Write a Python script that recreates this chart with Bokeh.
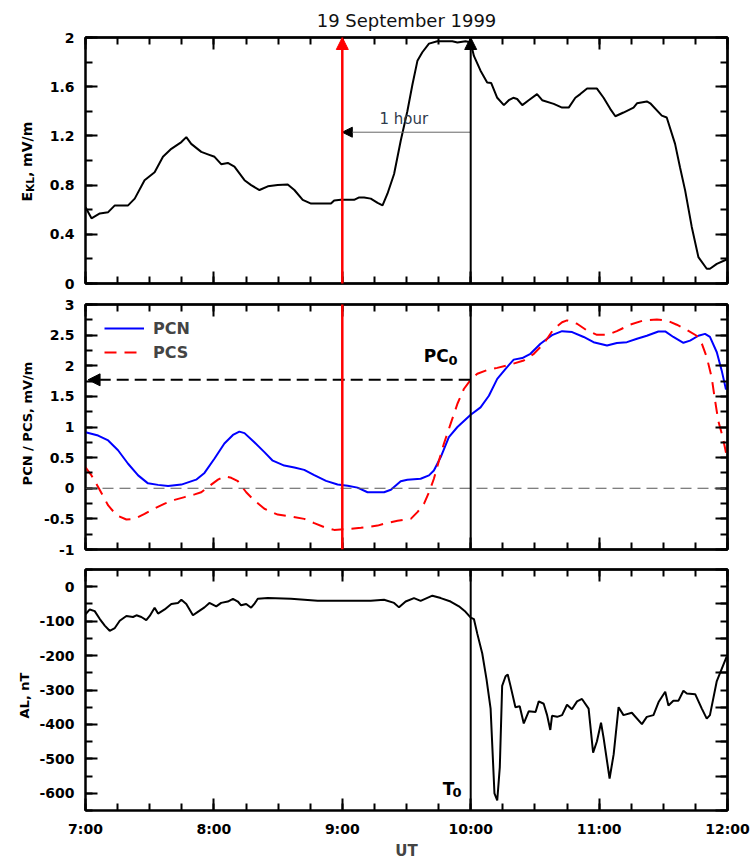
import math

import numpy as np
from bokeh.embed import file_html
from bokeh.layouts import column, row
from bokeh.models import (Arrow, CustomJSTickFormatter, FixedTicker, Label, Legend,
                          LegendItem, LinearAxis, NormalHead, NumeralTickFormatter, Range1d,
                          SingleIntervalTicker, Span)
from bokeh.plotting import figure
from bokeh.resources import INLINE

FONT = "DejaVu Sans"

# ---- data: UT given as minutes after 07:00 ----
ekl_min = [0, 2.8, 6.7, 10.6, 13.7, 19.9, 23.0, 27.6, 32.3, 36.2, 40.1, 44.8, 47.1, 49.4,
           54.1, 57.2, 60.3, 63.4, 66.5, 69.6, 74.3, 77.4, 81.3, 85.2, 89.8, 94.5, 97.6,
           101.5, 105.4, 114.7, 116.2, 119.3, 125.5, 127.9, 130.2, 133.3, 136.5, 138.8,
           141.1, 144.2, 147.3, 150.4, 152.8, 155.1, 157.4, 160.5, 164.4, 171.4, 173.8,
           177.6, 180.0, 181.5, 184.6, 187.7, 189.6, 192.4, 195.5, 197.8, 199.9, 201.7,
           204.1, 207.1, 211.0, 213.4, 218.8, 222.7, 225.8, 228.9, 231.2, 234.4, 239.0,
           242.1, 245.2, 247.6, 251.4, 256.1, 257.7, 262.3, 263.9, 269.3, 271.6, 275.5,
           277.8, 280.2, 283.3, 286.4, 290.3, 291.8, 295.0, 299.6, 300]
ekl_val = [0.62, 0.53, 0.57, 0.58, 0.635, 0.635, 0.69, 0.84, 0.905, 1.03, 1.095, 1.15, 1.19,
           1.135, 1.07, 1.05, 1.03, 0.97, 0.98, 0.95, 0.84, 0.80, 0.76, 0.79, 0.80, 0.805,
           0.76, 0.68, 0.65, 0.65, 0.675, 0.68, 0.68, 0.70, 0.70, 0.69, 0.655, 0.635,
           0.73, 0.89, 1.16, 1.40, 1.62, 1.81, 1.88, 1.95, 1.97, 1.97, 1.96,
           1.97, 1.96, 1.85, 1.73, 1.635, 1.63, 1.51, 1.45, 1.49, 1.51, 1.50,
           1.45, 1.49, 1.54, 1.49, 1.46, 1.43, 1.43, 1.51, 1.54, 1.585, 1.585,
           1.51, 1.42, 1.36, 1.39, 1.43, 1.465, 1.48, 1.465, 1.365, 1.35, 1.135,
           0.945, 0.757, 0.46, 0.215, 0.12, 0.12, 0.16, 0.195, 0.20]

pcn_min = [0, 5.9, 10.6, 15.2, 19.9, 24.6, 29.2, 33.9, 38.6, 44.8, 51.7, 55.6, 60.3, 64.9,
           68.9, 71.9, 74.3, 78.9, 83.6, 87.5, 92.9, 97.6, 102.2, 106.9, 112.4, 117.8,
           122.5, 127.1, 131.8, 139.5, 142.7, 147.3, 150.4, 156.6, 160.5, 162.8, 166.0,
           169.8, 173.8, 180.0, 184.6, 188.5, 192.4, 196.3, 200.1, 204.1, 207.9, 212.6,
           218.0, 222.7, 227.4, 232.8, 237.4, 243.7, 248.3, 253.0, 257.7, 262.3, 267.7,
           270.9, 274.7, 279.4, 282.5, 286.4, 289.5, 291.8, 295.0, 297.3, 299.3]
pcn_val = [0.915, 0.86, 0.78, 0.62, 0.40, 0.21, 0.08, 0.055, 0.035, 0.06, 0.14, 0.25, 0.485,
           0.73, 0.87, 0.925, 0.90, 0.75, 0.59, 0.45, 0.37, 0.34, 0.30, 0.215, 0.12, 0.06,
           0.04, 0.01, -0.065, -0.065, -0.025, 0.115, 0.14, 0.155, 0.21, 0.29, 0.51,
           0.835, 1.0, 1.20, 1.32, 1.51, 1.785, 1.95, 2.10, 2.125, 2.195, 2.36,
           2.50, 2.565, 2.55, 2.47, 2.385, 2.33, 2.37, 2.385, 2.44, 2.49, 2.56,
           2.56, 2.47, 2.375, 2.41, 2.49, 2.52, 2.47, 2.22, 1.92, 1.61]

pcs_min = [0, 2.8, 5.9, 10.6, 14.5, 19.1, 23.0, 27.6, 32.3, 37.0, 41.6, 46.3, 51.0, 54.1,
           57.2, 61.9, 64.9, 68.1, 71.2, 75.1, 78.9, 83.6, 89.8, 96.0, 102.2, 106.9, 111.6,
           116.2, 122.5, 128.7, 136.5, 139.5, 145.8, 152.0, 155.1, 158.2, 160.5, 162.8,
           165.2, 167.5, 170.6, 173.8, 176.8, 180.0, 183.1, 187.7, 192.4, 198.6, 204.8,
           209.5, 214.1, 218.8, 222.7, 225.0, 229.7, 234.4, 239.0, 243.7, 248.3, 254.5,
           260.7, 267.0, 271.6, 276.3, 281.0, 285.6, 288.0, 290.3, 292.6, 294.2, 295.7,
           297.8, 299.6]
pcs_val = [0.34, 0.21, 0.02, -0.28, -0.44, -0.51, -0.50, -0.42, -0.33, -0.25, -0.19, -0.145,
           -0.10, -0.065, 0.02, 0.14, 0.195, 0.17, 0.115, -0.065, -0.20, -0.335, -0.43,
           -0.46, -0.50, -0.57, -0.635, -0.68, -0.665, -0.645, -0.61, -0.58, -0.53, -0.50,
           -0.39, -0.25, -0.065, 0.155, 0.455, 0.73, 1.05, 1.38, 1.62, 1.77, 1.87, 1.93,
           1.965, 2.02, 2.085, 2.195, 2.36, 2.60, 2.71, 2.74, 2.685, 2.575, 2.505, 2.505,
           2.565, 2.67, 2.74, 2.755, 2.74, 2.67, 2.585, 2.49, 2.36, 2.14, 1.81, 1.43, 1.10,
           0.83, 0.53]

al_min = [0, 2.0, 4.3, 6.7, 9.0, 11.3, 13.7, 16.0, 19.1, 22.2, 23.8, 26.1, 28.4, 30.0, 32.3,
          33.9, 37.0, 40.1, 43.2, 44.8, 47.1, 50.2, 52.5, 55.6, 57.9, 61.1, 63.4, 66.5, 68.9,
          71.2, 72.7, 75.1, 77.4, 78.9, 80.5, 85.2, 96.0, 108.5, 120.9, 133.3, 139.5, 144.2,
          146.5, 149.6, 153.5, 156.6, 162.1, 166.0, 170.6, 174.5, 177.6, 180.0, 181.5,
          183.1, 185.4, 187.4, 189.3, 191.1, 192.4, 193.6, 194.7, 196.3, 197.3, 198.6,
          200.9, 202.9, 204.8, 207.1, 210.3, 211.8, 214.1, 215.7, 217.2, 218.0, 220.4,
          222.7, 225.0, 227.3, 229.7, 232.0, 235.1, 237.2, 239.0, 240.9, 242.1, 244.9,
          246.8, 249.1, 251.4, 255.3, 260.0, 262.3, 265.4, 267.8, 270.9, 272.4, 274.7,
          277.1, 279.4, 281.0, 284.9, 288.0, 290.3, 291.8, 295.0, 299.6]
al_val = [-80, -66, -71, -94, -113, -128, -120, -99, -85, -88, -83, -88, -97, -85, -61,
          -78, -66, -50, -47, -38, -50, -83, -73, -60, -47, -57, -47, -43, -35,
          -43, -54, -50, -61, -50, -35, -33, -35, -41, -41, -41, -38, -47,
          -60, -43, -33, -41, -26, -33, -43, -57, -73, -90, -94,
          -137, -194, -269, -354, -600, -621, -524, -288, -260, -255, -288,
          -350, -347, -397, -362, -364, -333, -340, -373, -416, -375, -378,
          -373, -343, -356, -333, -326, -354, -482, -449, -395, -439, -557,
          -487, -350, -373, -366, -399, -378, -373, -335, -305, -345, -331,
          -331, -302, -310, -312, -354, -383, -373, -274, -203]

T_START, T_END = 7, 12          # UT hours shown
ONSET = 10                      # T0, 10:00 UT
LEAD = 9                        # one hour before T0
PC0 = 1.77                      # PCS level at T0

HOURS = list(range(T_START, T_END + 1))
QUARTERS = list(np.arange(T_START, T_END + 0.01, 0.25))

GUTTER_W = 36                   # strip left of the panels for the rotated titles


def ut(minutes):
    return [T_START + m / 60.0 for m in minutes]


def labelled_axis_style(ax, size, standoff):
    ax.axis_line_color = "black"
    ax.axis_line_width = 2
    ax.major_tick_in = 12
    ax.major_tick_out = 0
    ax.minor_tick_in = 7
    ax.minor_tick_out = 0
    ax.major_tick_line_width = 2
    ax.minor_tick_line_width = 2
    ax.major_tick_line_color = "black"
    ax.minor_tick_line_color = "black"
    ax.major_label_text_font = FONT
    ax.major_label_text_font_style = "bold"
    ax.major_label_text_font_size = size
    ax.major_label_text_color = "black"
    ax.major_label_standoff = standoff


def tick_only_axis(p, loc, positions, length):
    """A frame edge that carries inward ticks but no labels."""
    ax = LinearAxis(ticker=FixedTicker(ticks=[], minor_ticks=positions))
    ax.axis_line_color = "black"
    ax.axis_line_width = 2
    ax.major_tick_in = 0
    ax.major_tick_out = 0
    ax.minor_tick_in = length
    ax.minor_tick_out = 0
    ax.minor_tick_line_width = 2
    ax.minor_tick_line_color = "black"
    ax.major_label_standoff = 0
    p.add_layout(ax, loc)


def panel(height, y0, y1, step, top, bottom, x_labels):
    p = figure(width=751 - GUTTER_W, height=height, x_range=Range1d(T_START, T_END),
               y_range=Range1d(y0, y1), output_backend="svg", toolbar_location=None,
               x_axis_location=None, y_axis_location="left",
               min_border_left=84 - GUTTER_W, min_border_right=24, min_border_top=top,
               min_border_bottom=bottom)
    p.grid.visible = False
    p.outline_line_color = "black"
    p.outline_line_width = 2
    p.background_fill_color = "white"
    p.border_fill_color = "white"

    ya = p.yaxis[0]
    ya.ticker = SingleIntervalTicker(interval=step, num_minor_ticks=2)
    ya.formatter = NumeralTickFormatter(format="0.[0]")
    labelled_axis_style(ya, "14px", 11)

    y_major = list(np.arange(y0, y1 + step / 100, step))
    y_minor = list(np.arange(y0, y1 + step / 100, step / 2))
    tick_only_axis(p, "right", y_minor, 7)
    tick_only_axis(p, "right", y_major, 12)
    tick_only_axis(p, "above", QUARTERS, 7)
    tick_only_axis(p, "above", HOURS, 12)

    if x_labels:
        xa = LinearAxis(ticker=SingleIntervalTicker(interval=1, num_minor_ticks=4),
                        formatter=CustomJSTickFormatter(code="return tick.toFixed(0) + ':00';"))
        labelled_axis_style(xa, "14px", 10)
        xa.axis_label = "UT"
        xa.axis_label_text_font = FONT
        xa.axis_label_text_font_style = "bold"
        xa.axis_label_text_font_size = "15px"
        xa.axis_label_standoff = 2
        p.add_layout(xa, "below")
    else:
        tick_only_axis(p, "below", QUARTERS, 7)
        tick_only_axis(p, "below", HOURS, 12)
    return p


def label(p, x, y, text, size, bold=True, align="left", baseline="alphabetic",
          angle=0.0, color="black"):
    p.add_layout(Label(x=x, y=y, text=text, text_font=FONT, text_font_size=size,
                       text_font_style="bold" if bold else "normal", text_align=align,
                       text_baseline=baseline, angle=angle, text_color=color))


def vline(p, x, y0, y1, color, width, head=None):
    p.add_layout(Arrow(x_start=x, y_start=y0, x_end=x, y_end=y1, line_color=color,
                       line_width=width, end=head))


# ---- top panel: E_KL ----
p1 = panel(293, 0, 2, 0.4, 37, 10, False)
p1.title.text = "19 September 1999"
p1.title.align = "center"
p1.title.text_font = FONT
p1.title.text_font_size = "18px"
p1.title.text_font_style = "normal"
p1.title.text_color = "#111111"
p1.title.standoff = 14
p1.line(ut(ekl_min), ekl_val, line_color="black", line_width=2)

p1.add_layout(Arrow(x_start=ONSET, y_start=1.23, x_end=LEAD, y_end=1.23,
                    line_color="#666666", line_width=1,
                    end=NormalHead(size=10, fill_color="black", line_color="black")))
vline(p1, LEAD, -0.1, 2, "#ff0000", 2.5,
      NormalHead(size=12, fill_color="#ff0000", line_color="#ff0000"))
vline(p1, ONSET, -0.1, 2, "black", 2,
      NormalHead(size=12, fill_color="black", line_color="black"))
label(p1, 9.479, 1.335, "1 hour", "15px", bold=False, align="center", color="#2f3b4c")

# ---- middle panel: PCN / PCS ----
p2 = panel(266, -1, 3, 0.5, 11, 10, False)
p2.add_layout(Span(location=0, dimension="width", line_color="#555555", line_width=1,
                   line_dash="11 6"))
r_pcn = p2.line(ut(pcn_min), pcn_val, line_color="#0000ff", line_width=2)
r_pcs = p2.line(ut(pcs_min), pcs_val, line_color="#ff0000", line_width=2, line_dash="12 8")

p2.add_layout(Arrow(x_start=ONSET, y_start=PC0, x_end=T_START + 0.02, y_end=PC0,
                    line_color="black", line_width=2, line_dash="12 6",
                    end=NormalHead(size=12, fill_color="black", line_color="black")))
vline(p2, LEAD, -1, 3.2, "#ff0000", 2.5)
vline(p2, ONSET, -1.2, 3.2, "black", 2)

legend = Legend(items=[LegendItem(label="PCN", renderers=[r_pcn]),
                       LegendItem(label="PCS", renderers=[r_pcs])],
                location=(19, 187), padding=0, margin=0, spacing=4,
                glyph_width=40, glyph_height=20, label_height=20, label_standoff=9,
                label_text_font=FONT, label_text_font_size="16px",
                label_text_font_style="bold", background_fill_alpha=0,
                border_line_alpha=0)
p2.add_layout(legend, "center")

label(p2, 9.634, 2.16, "PC", "17px")
label(p2, 9.828, 2.08, "0", "13px")

# ---- bottom panel: AL ----
p3 = panel(303, -650, 50, 100, 10, 46, True)
p3.line(ut(al_min), al_val, line_color="black", line_width=2)
vline(p3, ONSET, 80, -650, "black", 2)

label(p3, 9.782, -588, "T", "17px")
label(p3, 9.859, -599, "0", "13px")

# ---- left gutter holding the rotated axis titles (page pixels, y up) ----
gutter = figure(width=GUTTER_W, height=862, x_range=Range1d(0, GUTTER_W),
                y_range=Range1d(0, 862), x_axis_location=None, y_axis_location=None,
                title=None, output_backend="svg", toolbar_location=None, min_border=0)
gutter.grid.visible = False
gutter.outline_line_color = None
up = math.pi / 2
label(gutter, 26, 661, "E", "14px", baseline="middle", angle=up)
label(gutter, 29, 670.6, "KL", "10.5px", baseline="middle", angle=up)
label(gutter, 26, 685.4, ", mV/m", "14px", baseline="middle", angle=up)
label(gutter, 27, 439, "PCN / PCS, mV/m", "13px", align="center", baseline="middle",
      angle=up)
label(gutter, 24, 167, "AL, nT", "13px", align="center", baseline="middle", angle=up)

page = row(gutter, column(p1, p2, p3, spacing=0), spacing=0)
open("out.html", "w").write(file_html(page, INLINE))
